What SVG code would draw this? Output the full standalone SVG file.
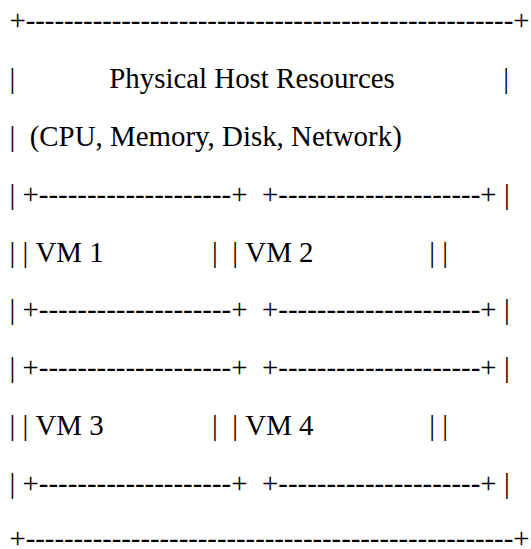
<svg xmlns="http://www.w3.org/2000/svg" width="531" height="549" viewBox="0 0 531 549">
  <style>
    text { font-family: "Liberation Serif", "Times New Roman", serif; font-size: 28.9px; fill: #000; }
  </style>
  <rect x="0" y="0" width="531" height="549" fill="#fff"/>

  <!-- Physical host: outer frame, title and side rails -->
  <g id="host">
    <text x="9.5" y="30.3" textLength="520" lengthAdjust="spacing">+---------------------------------------------------+</text>
    <text x="9.5" y="88.1">|</text>
    <text x="109.2" y="88.1">Physical Host Resources</text>
    <text x="503.3" y="88.1">|</text>
    <text x="9.5" y="145.9">|</text>
    <text x="29.7" y="145.9">(CPU, Memory, Disk, Network)</text>
    <text x="9.5" y="203.7">|</text>
    <text x="504" y="203.7">|</text>
    <text x="9.5" y="261.5">|</text>
    <text x="442.2" y="261.5">|</text>
    <text x="9.5" y="319.3">|</text>
    <text x="504" y="319.3">|</text>
    <text x="9.5" y="377.1">|</text>
    <text x="504" y="377.1">|</text>
    <text x="9.5" y="434.9">|</text>
    <text x="442.2" y="434.9">|</text>
    <text x="9.5" y="492.7">|</text>
    <text x="504" y="492.7">|</text>
    <text x="9.5" y="548" textLength="520" lengthAdjust="spacing">+---------------------------------------------------+</text>
  </g>

  <!-- Virtual machines -->
  <g id="vm1">
    <text x="22.5" y="203.7">+--------------------+</text>
    <text x="22.5" y="261.5">|</text>
    <text x="35.5" y="261.5">VM 1</text>
    <text x="212.1" y="261.5">|</text>
    <text x="22.5" y="319.3">+--------------------+</text>
  </g>
  <g id="vm2">
    <text x="262" y="203.7">+---------------------+</text>
    <text x="232.3" y="261.5">|</text>
    <text x="245.3" y="261.5">VM 2</text>
    <text x="429.2" y="261.5">|</text>
    <text x="262" y="319.3">+---------------------+</text>
  </g>
  <g id="vm3">
    <text x="22.5" y="377.1">+--------------------+</text>
    <text x="22.5" y="434.9">|</text>
    <text x="35.5" y="434.9">VM 3</text>
    <text x="212.1" y="434.9">|</text>
    <text x="22.5" y="492.7">+--------------------+</text>
  </g>
  <g id="vm4">
    <text x="262" y="377.1">+---------------------+</text>
    <text x="232.3" y="434.9">|</text>
    <text x="245.3" y="434.9">VM 4</text>
    <text x="429.2" y="434.9">|</text>
    <text x="262" y="492.7">+---------------------+</text>
  </g>
</svg>
